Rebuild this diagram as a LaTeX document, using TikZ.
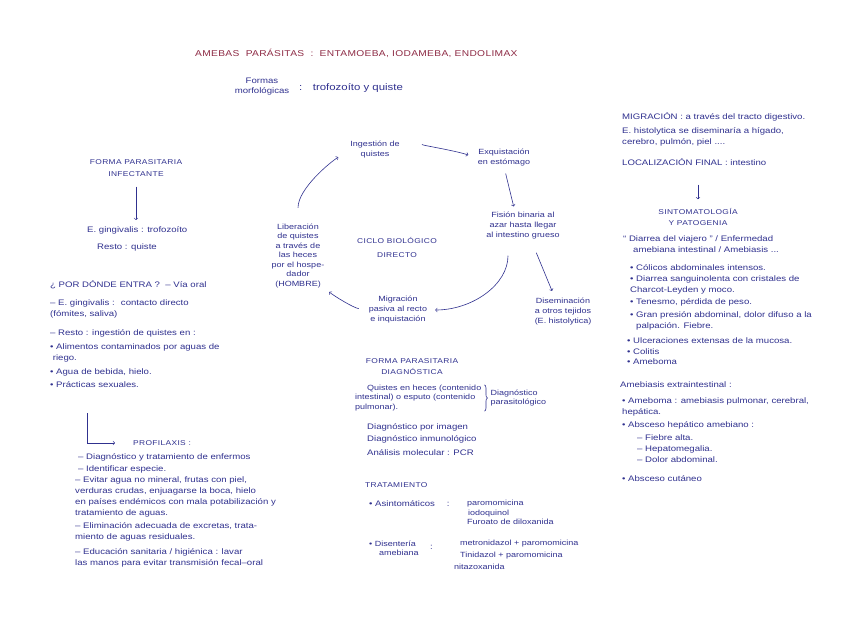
\documentclass[tikz,border=0pt]{standalone}
\usepackage{fontspec}
\setmainfont{Liberation Sans}[FakeStretch=1.2]
\usetikzlibrary{positioning,decorations.pathreplacing}
\definecolor{ink}{HTML}{30318F}
\definecolor{redink}{HTML}{8E2B45}

\begin{document}
\begin{tikzpicture}[x=1pt,y=-1pt,
  txt/.style={anchor=west,align=left,inner sep=0pt,text=ink,
    font=\fontsize{8}{11}\selectfont},
  mid/.style={txt,anchor=center,align=center},
  cyc/.style={mid,font=\fontsize{7.5}{10}\selectfont},
  small/.style={txt,font=\fontsize{7.5}{9.5}\selectfont},
  caps/.style={mid,font=\fontsize{7}{12}\selectfont\addfontfeature{LetterSpace=5}},
  arr/.style={->,draw=ink,line width=0.6pt}]

\fill[white,use as bounding box] (0,0) rectangle (848,630);

\node[txt,text=redink,font=\fontsize{8.5}{10}\selectfont\addfontfeature{LetterSpace=4}]
  (titulo) at (195,53) {AMEBAS \ PARÁSITAS \ : \ ENTAMOEBA, IODAMEBA, ENDOLIMAX};
\node[mid,font=\fontsize{8}{10}\selectfont] (formas) at (262,87) {Formas\\morfológicas};
\node[txt,font=\fontsize{9.5}{11}\selectfont] (trofo) at (299,88) {: \ \ trofozoíto y quiste};

% forma infectante
\node[caps] (infect) at (136,168) {FORMA PARASITARIA\\INFECTANTE};
\node[txt] (egin) at (87,230) {E. gingivalis : trofozoíto};
\node[txt] (resto) at (97,247) {Resto : quiste};
\draw[arr,shorten <=10pt,shorten >=6pt] (infect.south) -- (infect.south |- egin.north);

\node[txt] (entra) at (50,285) {¿ POR DÓNDE ENTRA ? \ – Vía oral};
\node[txt] (contacto) at (50,309) {– E. gingivalis : \ contacto directo\\(fómites, saliva)};
\node[txt] (ingest) at (50,333) {– Resto : ingestión de quistes en :};
\node[txt] (alim) at (50,353) {• Alimentos contaminados por aguas de\\\ riego.};
\node[txt] (agua) at (50,372) {• Agua de bebida, hielo.};
\node[txt] (sex) at (50,385) {• Prácticas sexuales.};

% profilaxis
\coordinate (codo) at (87,413);
\node[caps,anchor=west] (prof) at (133,443) {PROFILAXIS :};
\draw[arr,shorten >=18pt] (codo) |- (prof.west);
\node[txt] (p1) at (78,457) {– Diagnóstico y tratamiento de enfermos};
\node[txt] (p2) at (78,469) {– Identificar especie.};
\node[txt] (p3) at (75,497) {– Evitar agua no mineral, frutas con piel,\\verduras crudas, enjuagarse la boca, hielo\\en países endémicos con mala potabilización y\\tratamiento de aguas.};
\node[txt] (p4) at (75,531.5) {– Eliminación adecuada de excretas, trata-\\miento de aguas residuales.};
\node[txt] (p5) at (75,557.5) {– Educación sanitaria / higiénica : lavar\\las manos para evitar transmisión fecal–oral};

% ciclo
\node[cyc] (ing) at (375,150) {Ingestión de\\quistes};
\node[cyc] (exq) at (504,158) {Exquistación\\en estómago};
\node[cyc] (fis) at (523,226) {Fisión binaria al\\azar hasta llegar\\al intestino grueso};
\node[cyc] (dis) at (563,312) {Diseminación\\a otros tejidos\\(E. histolytica)};
\node[cyc] (mig) at (398,310) {Migración\\pasiva al recto\\e inquistación};
\node[cyc,font=\fontsize{7.5}{9.5}\selectfont] (lib) at (298,256)
  {Liberación\\de quistes\\a través de\\las heces\\por el hospe-\\dador\\(HOMBRE)};
\node[caps] (ciclo) at (397,247) {CICLO BIOLÓGICO\\[2pt]DIRECTO};

\draw[arr,shorten <=23pt,shorten >=10pt] (ing.east) .. controls +(20,-5) and +(-25,-8) .. (exq.west);
\draw[arr,shorten <=7pt,shorten >=6pt] (exq.south) -- (fis.120);
\draw[arr,shorten <=14pt,shorten >=8pt] (fis.-60) -- (dis.120);
\draw[arr,shorten <=16pt,shorten >=8pt] ([xshift=-15pt]fis.south) .. controls +(0,45) and +(45,0) .. (mig.east);
\draw[arr,shorten <=10pt,shorten >=6pt] (mig.west) .. controls +(-15,-2) and +(10,8) .. (lib.south east);
\draw[arr,shorten <=16pt,shorten >=14pt] (lib.north) .. controls +(0,-35) and +(-20,12) .. (ing.west);

% diagnostico
\node[caps] (diag) at (412,367) {FORMA PARASITARIA\\[-1pt]DIAGNÓSTICA};
\node[small] (quis) at (355,398) {\hspace*{12pt}Quistes en heces (contenido\\intestinal) o esputo (contenido\\pulmonar).};
\draw[ink,line width=0.6pt,decorate,decoration={brace,amplitude=3pt}]
  ([xshift=3pt]quis.north east) -- ([xshift=3pt]quis.south east);
\node[small,right=9pt of quis.east] (diagpar) {Diagnóstico\\parasitológico};
\node[txt] (img) at (367,427) {Diagnóstico por imagen};
\node[txt] (inm) at (367,439) {Diagnóstico inmunológico};
\node[txt] (pcr) at (367,453) {Análisis molecular : PCR};

% tratamiento
\node[caps,anchor=west] (trat) at (365,485) {TRATAMIENTO};
\node[txt] (asin) at (369,504) {• Asintomáticos\hspace{12pt}:};
\node[small] (asinmed) at (467,512.5) {paromomicina\\\hspace*{1pt}iodoquinol\\Furoato de diloxanida};
\node[small] (dise) at (369,548.5) {• Disentería\\\hspace*{10pt}amebiana};
\node[txt] (dcolon) at (430,547) {:};
\node[txt,font=\fontsize{7.5}{12}\selectfont] (disemed) at (460,555) {metronidazol + paromomicina\\Tinidazol + paromomicina\\\hspace*{-6pt}nitazoxanida};

% migracion y sintomas
\node[txt] (migr) at (622,117) {MIGRACIÓN : a través del tracto digestivo.};
\node[txt] (hist) at (622,137) {E. histolytica se diseminaría a hígado,\\cerebro, pulmón, piel ....};
\node[txt] (loc) at (622,162) {LOCALIZACIÓN FINAL : intestino};
\node[caps,font=\fontsize{7}{11}\selectfont\addfontfeature{LetterSpace=5}] (sint) at (698,217) {SINTOMATOLOGÍA\\Y PATOGENIA};
\draw[arr,shorten <=19pt,shorten >=9pt] (loc.south -| sint.north) -- (sint.north);

\node[txt] (s1) at (623,244.5) {“ Diarrea del viajero ” / Enfermedad\\\hspace*{10pt}amebiana intestinal / Amebiasis ...};
\node[txt] (s2) at (630,268) {• Cólicos abdominales intensos.};
\node[txt] (s3) at (630,285) {• Diarrea sanguinolenta con cristales de\\Charcot-Leyden y moco.};
\node[txt] (s4) at (630,302) {• Tenesmo, pérdida de peso.};
\node[txt] (s5) at (630,321) {• Gran presión abdominal, dolor difuso a la\\\hspace*{6pt}palpación. Fiebre.};
\node[txt] (s6) at (627,341) {• Ulceraciones extensas de la mucosa.};
\node[txt] (s7) at (627,351.5) {• Colitis};
\node[txt] (s8) at (627,362) {• Ameboma};

\node[txt] (extra) at (620,385) {Amebiasis extraintestinal :};
\node[txt] (e1) at (622,407) {• Ameboma : amebiasis pulmonar, cerebral,\\hepática.};
\node[txt] (e2) at (622,425) {• Absceso hepático amebiano :};
\node[txt] (e3) at (637,438) {– Fiebre alta.};
\node[txt] (e4) at (637,449) {– Hepatomegalia.};
\node[txt] (e5) at (637,460) {– Dolor abdominal.};
\node[txt] (e6) at (622,479) {• Absceso cutáneo};
\end{tikzpicture}
\end{document}
